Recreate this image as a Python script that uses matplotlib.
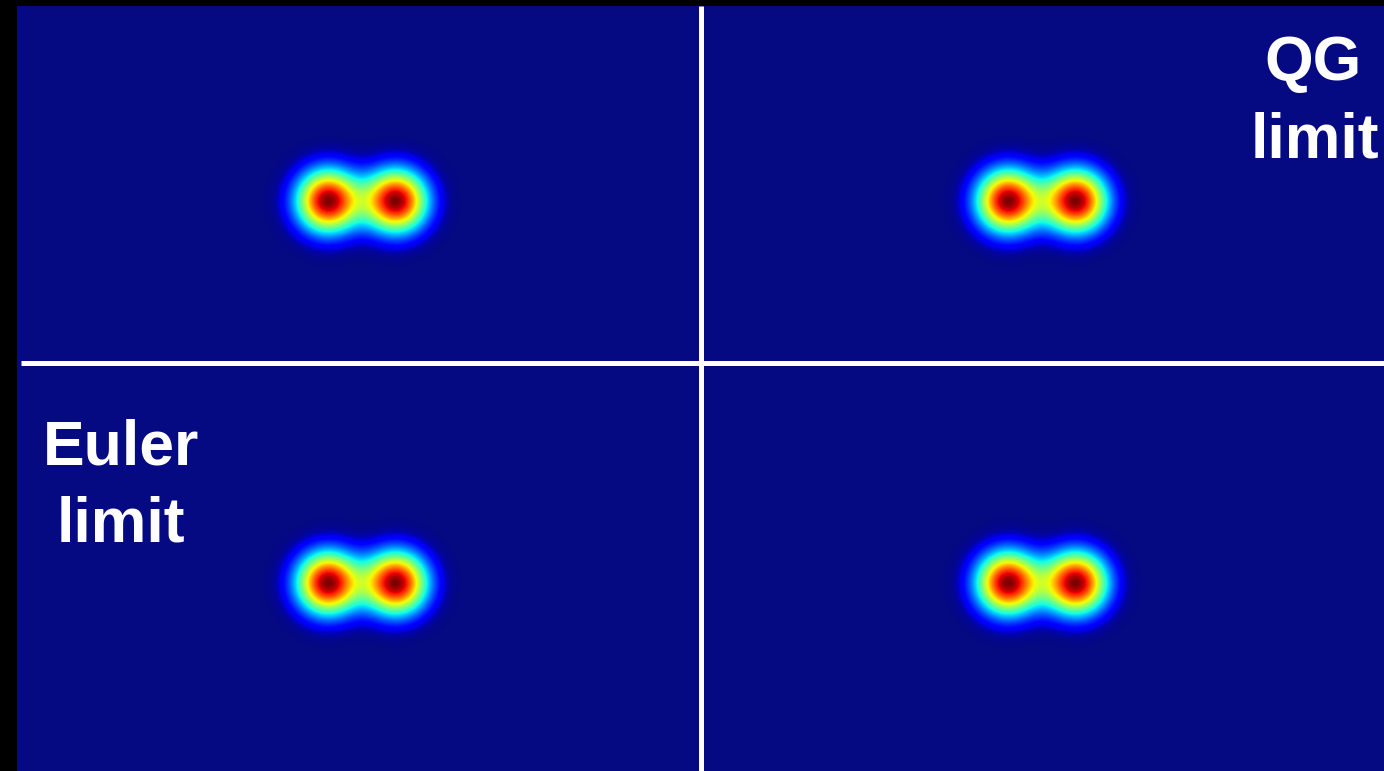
import numpy as np
import matplotlib
matplotlib.use("Agg")
import matplotlib.pyplot as plt
from matplotlib.colors import ListedColormap

# ---- data (pixel-space coordinates of the picture) ----
pair_x = [362, 1042]          # x centre of each vortex pair (left, right column)
pair_y = [201, 583]           # y centre of each vortex pair (top, bottom row)
half_separation = 34          # half distance between the two vortices of a pair
vortex_width = 22             # gaussian width of each vortex
vortex_amplitude = 1.0

label_lines = ["QG", "limit", "Euler", "limit"]
label_x = [1313, 1315, 121, 121]
label_baseline = [80, 157, 465, 542]

divider_x = 701
divider_y = 363

W, H = 1384, 771
x0, y0 = 17, 6

fig = plt.figure(figsize=(W / 100, H / 100), dpi=100, facecolor="black")
ax = fig.add_axes([x0 / W, 0, (W - x0) / W, (H - y0) / H])
ax.set_facecolor("black")

xs = np.arange(x0, W) + 0.5
ys = np.arange(y0, H) + 0.5
X, Y = np.meshgrid(xs, ys)
field = np.zeros_like(X)
for cy in pair_y:
    for cx in pair_x:
        for dx in (-half_separation, half_separation):
            field += vortex_amplitude * np.exp(-((X - cx - dx) ** 2 + (Y - cy) ** 2) / (2 * vortex_width ** 2))

# jet, with its darkest end nudged to the slightly violet navy of the picture
cols = plt.get_cmap("jet")(np.linspace(0, 1, 256))
bg = np.array([0.024, 0.04, 0.51, 1.0])
k = 24
for i in range(k):
    w = 1 - i / k
    cols[i] = w * bg + (1 - w) * cols[i]
cmap = ListedColormap(cols)

ax.imshow(field, cmap=cmap, vmin=0, vmax=field.max(), extent=[x0, W, H, y0],
          aspect="auto", interpolation="bilinear")
ax.set_xlim(x0, W)
ax.set_ylim(H, y0)
ax.axis("off")

ax.plot([divider_x, divider_x], [y0, H], color="white", lw=3.6, solid_capstyle="butt")
ax.plot([21, W], [divider_y, divider_y], color="white", lw=3.6, solid_capstyle="butt")

for t, lx, ly in zip(label_lines, label_x, label_baseline):
    ax.text(lx, ly, t, color="white", fontsize=45, fontweight="bold",
            family="Liberation Sans", ha="center", va="baseline")

fig.savefig("out.png", dpi=100, facecolor="black")
